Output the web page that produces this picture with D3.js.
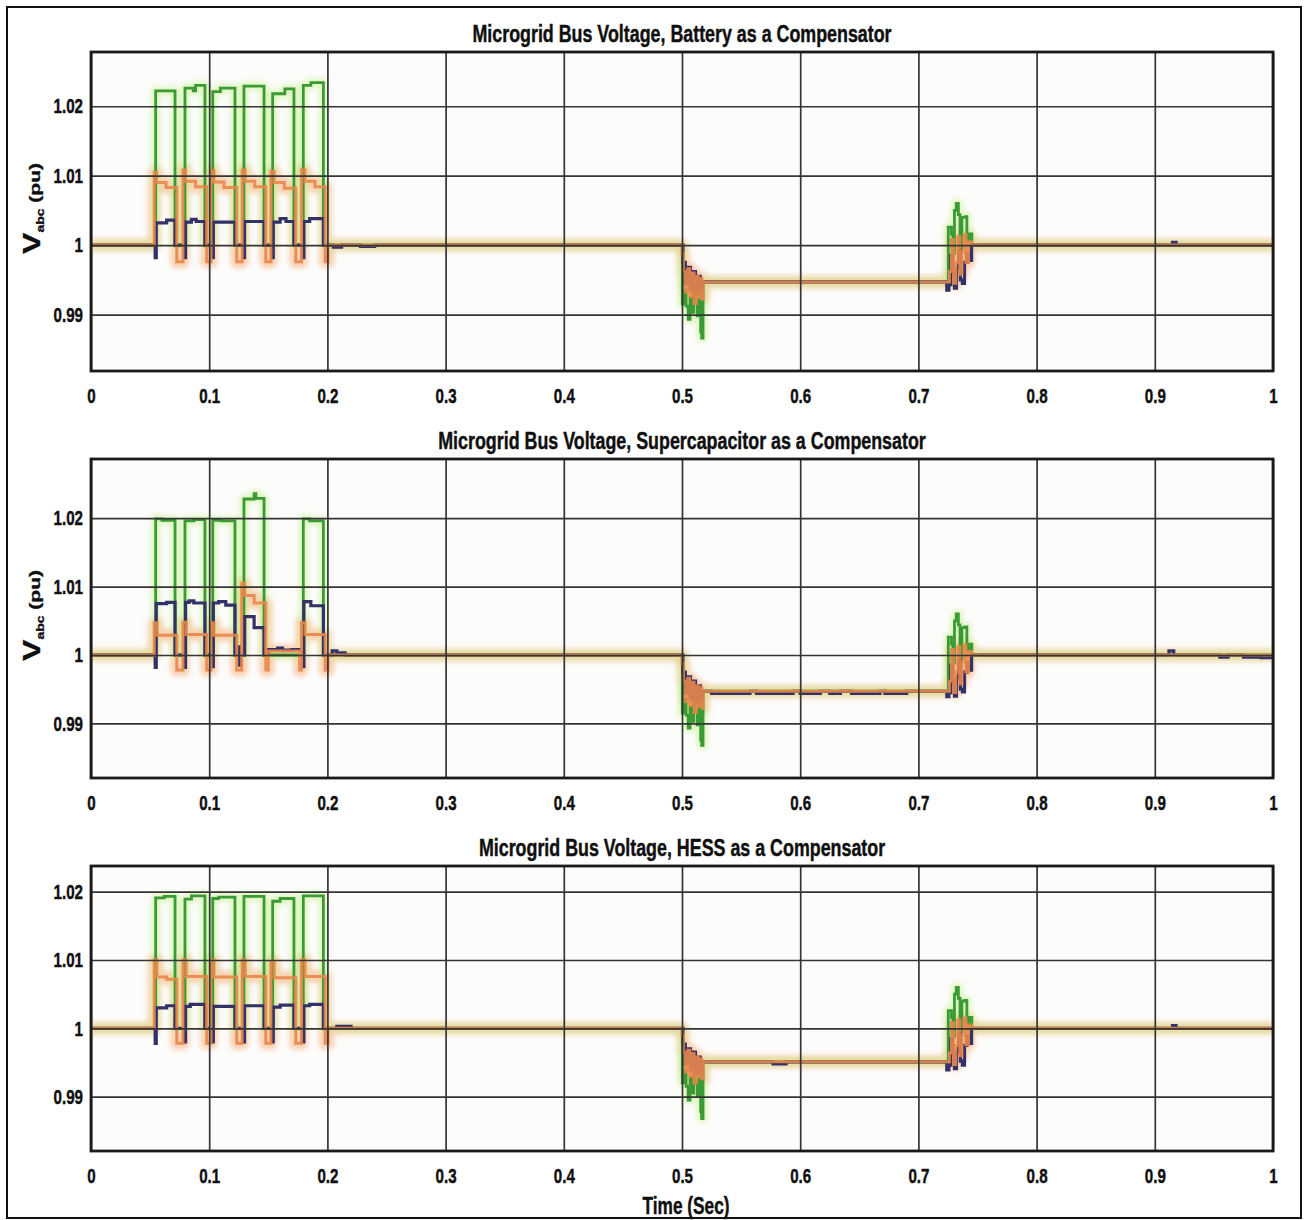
<!DOCTYPE html>
<html><head><meta charset="utf-8">
<script src="https://cdn.jsdelivr.net/npm/d3@7"></script>
<style>body{margin:0;background:#fff}</style>
</head><body>
<svg id="c" width="1306" height="1220"></svg>
<script>
// ---------- data ----------
const xTicks = [0,0.1,0.2,0.3,0.4,0.5,0.6,0.7,0.8,0.9,1];
const xTickLabels = ["0","0.1","0.2","0.3","0.4","0.5","0.6","0.7","0.8","0.9","1"];
const yTicks = [0.99,1,1.01,1.02];
const yTickLabels = ["0.99","1","1.01","1.02"];
const panelTitles = [
  "Microgrid Bus Voltage, Battery as a Compensator",
  "Microgrid Bus Voltage, Supercapacitor as a Compensator",
  "Microgrid Bus Voltage, HESS as a Compensator"
];
const yRanges = [[0.98187,1.02781],[0.98202,1.02865],[0.98204,1.02376]];
const xLabel = "Time (Sec)";

// step data: [time, value held from this time on]
const batteryGreen = [[0,1],[0.0547,1.0222],[0.0711,1.0],[0.0795,1.0226],[0.0865,1.0222],[0.0885,1.0230],[0.0964,1.0],[0.1030,1.0221],[0.1095,1.0226],[0.1218,1.0],[0.1294,1.0229],[0.1464,1.0],[0.1537,1.0218],[0.1640,1.0225],[0.1717,1.0],[0.1796,1.0230],[0.1860,1.0234],[0.1966,1.0],
 [0.5003,0.9915],[0.5020,0.9935],[0.5035,0.9912],[0.5052,0.9893],[0.5068,0.9925],[0.5083,0.9903],[0.5098,0.9935],[0.5113,0.9917],[0.5128,0.9898],[0.5143,0.9930],[0.5158,0.9875],[0.5166,0.9866],[0.5178,0.9947],
 [0.7253,1.0026],[0.7280,1.0016],[0.7292,0.9988],[0.7305,1.0050],[0.7320,1.0060],[0.7338,1.0044],[0.7352,0.9996],[0.7368,1.0040],[0.7395,1.0041],[0.7410,1.0006],[0.7428,1.0016],[0.7452,1.0],[1,1.0]];
const batteryOrange = [[0,1],[0.0535,1.0105],[0.0555,1.0090],[0.0635,1.0083],[0.0726,0.9976],[0.0778,1.0108],[0.0800,1.0092],[0.0885,1.0084],[0.0979,0.9976],[0.1015,1.0107],[0.1040,1.0091],[0.1125,1.0083],[0.1233,0.9976],[0.1279,1.0108],[0.1305,1.0092],[0.1385,1.0084],[0.1479,0.9976],[0.1522,1.0106],[0.1550,1.0090],[0.1635,1.0082],[0.1732,0.9976],[0.1781,1.0108],[0.1810,1.0092],[0.1895,1.0084],[0.1981,0.9976],[0.2005,1.0],
 [0.5000,0.9988],[0.5012,0.9962],[0.5030,0.9932],[0.5048,0.9966],[0.5066,0.9926],[0.5084,0.9960],[0.5102,0.9916],[0.5120,0.9955],[0.5138,0.9925],[0.5155,0.9952],[0.5168,0.9922],[0.5180,0.9947],
 [0.7262,0.9962],[0.7280,1.0008],[0.7298,0.9945],[0.7316,0.9975],[0.7334,1.0012],[0.7350,0.9958],[0.7368,0.9990],[0.7385,1.0015],[0.7402,0.9975],[0.7424,1.0005],[0.7450,1.0],[1,1.0]];
const batteryNavy = [[0,1],[0.0543,0.9982],[0.0552,1.0032],[0.0640,1.0036],[0.0711,1.0],[0.0791,0.9982],[0.0800,1.0033],[0.0850,1.0037],[0.0890,1.0034],[0.0964,1.0],[0.1026,0.9982],[0.1035,1.0033],[0.1218,1.0],[0.1290,0.9982],[0.1299,1.0034],[0.1464,1.0],[0.1533,0.9982],[0.1542,1.0033],[0.1600,1.0038],[0.1650,1.0034],[0.1717,1.0],[0.1792,0.9982],[0.1801,1.0034],[0.1850,1.0038],[0.1966,1.0],[0.2050,0.9997],[0.2120,1.0],[0.2280,0.9998],[0.2400,1.0],
 [0.5008,0.9975],[0.5028,0.9945],[0.5052,0.9968],[0.5072,0.9936],[0.5094,0.9962],[0.5114,0.9930],[0.5134,0.9955],[0.5154,0.9935],[0.5170,0.9947],
 [0.7240,0.9935],[0.7258,0.9943],[0.7274,0.9985],[0.7290,0.9960],[0.7305,0.9938],[0.7322,0.9966],[0.7340,0.9992],[0.7355,0.9950],[0.7372,0.9945],[0.7390,0.9975],[0.7410,0.9988],[0.7430,0.9978],[0.7450,1.0],[0.9150,1.0004],[0.9180,1.0],[1,1.0]];

const superGreen = [[0,1],[0.0547,1.0199],[0.0600,1.0197],[0.0711,1.0],[0.0795,1.0196],[0.0870,1.0198],[0.0964,1.0],[0.1030,1.0197],[0.1100,1.0196],[0.1218,1.0],[0.1294,1.0228],[0.1380,1.0236],[0.1395,1.0229],[0.1464,1.0],[0.1796,1.0199],[0.1850,1.0196],[0.1966,1.0],
 [0.5003,0.9915],[0.5020,0.9935],[0.5035,0.9912],[0.5052,0.9893],[0.5068,0.9925],[0.5083,0.9903],[0.5098,0.9935],[0.5113,0.9917],[0.5128,0.9898],[0.5143,0.9930],[0.5158,0.9876],[0.5166,0.9868],[0.5178,0.9947],
 [0.7253,1.0026],[0.7280,1.0016],[0.7292,0.9988],[0.7305,1.0050],[0.7320,1.0060],[0.7338,1.0044],[0.7352,0.9996],[0.7368,1.0040],[0.7395,1.0041],[0.7410,1.0006],[0.7428,1.0016],[0.7452,1.0],[1,1.0]];
const superOrange = [[0,1],[0.0535,1.0047],[0.0560,1.0029],[0.0726,0.9978],[0.0778,1.0048],[0.0805,1.0030],[0.0979,0.9978],[0.1015,1.0047],[0.1040,1.0029],[0.1233,0.9978],[0.1275,1.0105],[0.1300,1.0087],[0.1380,1.0076],[0.1479,0.9978],[0.1500,1.0006],[0.1765,0.9978],[0.1781,1.0047],[0.1810,1.0030],[0.1981,0.9978],[0.2005,1.0],
 [0.5000,0.9988],[0.5012,0.9962],[0.5030,0.9932],[0.5048,0.9966],[0.5066,0.9926],[0.5084,0.9960],[0.5102,0.9916],[0.5120,0.9955],[0.5138,0.9925],[0.5155,0.9952],[0.5168,0.9922],[0.5180,0.9947],
 [0.7262,0.9962],[0.7280,1.0008],[0.7298,0.9945],[0.7316,0.9975],[0.7334,1.0012],[0.7350,0.9958],[0.7368,0.9990],[0.7385,1.0015],[0.7402,0.9975],[0.7424,1.0005],[0.7450,1.0],[1,1.0]];
const superNavy = [[0,1],[0.0543,0.9982],[0.0552,1.0075],[0.0640,1.0077],[0.0711,1.0],[0.0791,0.9982],[0.0800,1.0077],[0.0830,1.0079],[0.0870,1.0076],[0.0964,1.0],[0.1026,0.9983],[0.1035,1.0076],[0.1080,1.0078],[0.1140,1.0073],[0.1218,1.0],[0.1240,1.0012],[0.1255,0.9985],[0.1265,1.0],[0.1300,1.0056],[0.1380,1.0040],[0.1464,1.0],[0.1500,1.0008],[0.1580,1.0010],[0.1620,1.0007],[0.1700,1.0008],[0.1792,0.9983],[0.1801,1.0078],[0.1860,1.0072],[0.1966,1.0],[0.2040,1.0006],[0.2080,1.0003],[0.2150,1.0],
 [0.5008,0.9975],[0.5028,0.9945],[0.5052,0.9968],[0.5072,0.9936],[0.5094,0.9962],[0.5114,0.9930],[0.5134,0.9955],[0.5154,0.9935],[0.5170,0.9947],
 [0.5250,0.9944],[0.5575,0.9947],[0.5630,0.9944],[0.5940,0.9947],[0.6000,0.9944],[0.6170,0.9947],[0.6250,0.9944],[0.6340,0.9947],[0.6435,0.9944],[0.6675,0.9947],[0.6717,0.9944],[0.6901,0.9947],
 [0.7240,0.9939],[0.7258,0.9945],[0.7274,0.9985],[0.7290,0.9960],[0.7305,0.9940],[0.7322,0.9966],[0.7340,0.9992],[0.7355,0.9950],[0.7372,0.9946],[0.7390,0.9975],[0.7410,0.9988],[0.7430,0.9978],[0.7450,1.0],
 [0.9120,1.0006],[0.9160,1.0],[0.9550,0.9997],[0.9620,1.0],[0.9750,0.9997],[0.9900,0.9996],[1,0.9996]];

const hessGreen = [[0,1],[0.0547,1.0191],[0.0620,1.0193],[0.0711,1.0],[0.0795,1.0189],[0.0850,1.0194],[0.0964,1.0],[0.1030,1.0190],[0.1080,1.0192],[0.1218,1.0],[0.1294,1.0193],[0.1464,1.0],[0.1537,1.0186],[0.1600,1.0190],[0.1717,1.0],[0.1796,1.0194],[0.1966,1.0],
 [0.5003,0.9920],[0.5020,0.9938],[0.5035,0.9915],[0.5052,0.9895],[0.5068,0.9928],[0.5083,0.9905],[0.5098,0.9938],[0.5113,0.9920],[0.5128,0.9900],[0.5143,0.9933],[0.5158,0.9878],[0.5166,0.9868],[0.5178,0.9951],
 [0.7253,1.0026],[0.7280,1.0016],[0.7292,0.9988],[0.7305,1.0050],[0.7320,1.0060],[0.7338,1.0044],[0.7352,0.9996],[0.7368,1.0040],[0.7395,1.0041],[0.7410,1.0006],[0.7428,1.0016],[0.7452,1.0],[1,1.0]];
const hessOrange = [[0,1],[0.0535,1.0100],[0.0558,1.0075],[0.0640,1.0072],[0.0726,0.9978],[0.0778,1.0100],[0.0805,1.0076],[0.0979,0.9978],[0.1015,1.0100],[0.1040,1.0075],[0.1233,0.9978],[0.1279,1.0100],[0.1305,1.0076],[0.1479,0.9978],[0.1522,1.0098],[0.1550,1.0074],[0.1732,0.9978],[0.1781,1.0100],[0.1810,1.0076],[0.1981,0.9978],[0.2005,1.0],
 [0.5000,0.9990],[0.5012,0.9965],[0.5030,0.9936],[0.5048,0.9968],[0.5066,0.9930],[0.5084,0.9963],[0.5102,0.9920],[0.5120,0.9958],[0.5138,0.9929],[0.5155,0.9955],[0.5168,0.9926],[0.5180,0.9951],
 [0.7262,0.9964],[0.7280,1.0008],[0.7298,0.9947],[0.7316,0.9975],[0.7334,1.0012],[0.7350,0.9960],[0.7368,0.9990],[0.7385,1.0015],[0.7402,0.9976],[0.7424,1.0005],[0.7450,1.0],[1,1.0]];
const hessNavy = [[0,1],[0.0543,0.9978],[0.0552,1.0030],[0.0640,1.0033],[0.0711,1.0],[0.0791,0.9980],[0.0800,1.0032],[0.0840,1.0035],[0.0964,1.0],[0.1026,0.9980],[0.1035,1.0032],[0.1218,1.0],[0.1290,0.9980],[0.1299,1.0033],[0.1464,1.0],[0.1533,0.9980],[0.1542,1.0031],[0.1600,1.0034],[0.1717,1.0],[0.1792,0.9980],[0.1801,1.0033],[0.1850,1.0035],[0.1966,1.0],[0.2080,1.0003],[0.2200,1.0],
 [0.5008,0.9977],[0.5028,0.9948],[0.5052,0.9970],[0.5072,0.9939],[0.5094,0.9965],[0.5114,0.9934],[0.5134,0.9958],[0.5154,0.9938],[0.5170,0.9951],[0.5770,0.9948],[0.5880,0.9951],
 [0.7240,0.9939],[0.7258,0.9946],[0.7274,0.9985],[0.7290,0.9962],[0.7305,0.9941],[0.7322,0.9966],[0.7340,0.9992],[0.7355,0.9952],[0.7372,0.9946],[0.7390,0.9975],[0.7410,0.9988],[0.7430,0.9978],[0.7450,1.0],[0.9150,1.0004],[0.9180,1.0],[1,1.0]];

// ---------- layout ----------
const FONT = '"Liberation Sans", Arial, sans-serif';
const K = 0.72;           // horizontal squeeze of the lettering
const L = 91, R = 1273;
const boxes = [{top:52,bottom:371,ylab:true},{top:459,bottom:778,ylab:true},{top:866,bottom:1151,ylab:false}];
const seriesSets = [
  [batteryGreen, batteryNavy, batteryOrange],
  [superGreen, superNavy, superOrange],
  [hessGreen, hessNavy, hessOrange]
];
const COL = {green:"#3a9a33", navy:"#323268", orange:"#e8864a", greenHalo:"#c2f08a", orangeHalo:"#f7a66c"};
const INK = "#0f0f0f";

const svg = d3.select("#c");
const defs = svg.append("defs");
defs.append("filter").attr("id","soft").attr("x","-5%").attr("y","-20%").attr("width","110%").attr("height","140%")
  .append("feGaussianBlur").attr("stdDeviation",2.6);

svg.append("rect").attr("x",7).attr("y",7).attr("width",1294).attr("height",1211)
  .attr("fill","none").attr("stroke","#111").attr("stroke-width",2);

function inked(sel, size) {
  return sel.attr("font-family",FONT).attr("font-weight","bold").attr("font-size",size)
    .attr("fill",INK).attr("stroke",INK).attr("stroke-width",0.45);
}
function squeezed(parent, x, y, str, size, anchor) {
  return inked(parent.append("text")
    .attr("transform",`translate(${x},${y}) scale(${K},1)`)
    .attr("text-anchor",anchor||"middle"), size)
    .text(str);
}

boxes.forEach((b,i) => {
  const x = d3.scaleLinear().domain([0,1]).range([L,R]);
  const y = d3.scaleLinear().domain(yRanges[i]).range([b.bottom,b.top]);
  const g = svg.append("g");
  defs.append("clipPath").attr("id","clip"+i).append("rect")
    .attr("x",L).attr("y",b.top).attr("width",R-L).attr("height",b.bottom-b.top);

  g.append("rect").attr("x",L).attr("y",b.top).attr("width",R-L).attr("height",b.bottom-b.top).attr("fill","#fcfcfb");

  const line = d3.line().x(d=>x(d[0])).y(d=>y(d[1])).curve(d3.curveStepAfter);
  const [gr, nv, or] = seriesSets[i];
  const dg = g.append("g").attr("clip-path",`url(#clip${i})`);
  const halo = dg.append("g").attr("filter","url(#soft)");
  halo.append("path").attr("d",line(or)).attr("fill","none").attr("stroke",COL.orangeHalo).attr("stroke-width",13).attr("stroke-opacity",0.5).attr("stroke-linejoin","round");
  halo.append("path").attr("d",line(gr)).attr("fill","none").attr("stroke",COL.greenHalo).attr("stroke-width",9).attr("stroke-opacity",0.5).attr("stroke-linejoin","round");
  dg.append("path").attr("d",line(gr)).attr("fill","none").attr("stroke",COL.green).attr("stroke-width",2.8);
  dg.append("path").attr("d",line(nv)).attr("fill","none").attr("stroke",COL.navy).attr("stroke-width",3.2);
  dg.append("path").attr("d",line(or)).attr("fill","none").attr("stroke",COL.orange).attr("stroke-width",3).attr("stroke-opacity",0.9);

  // grid
  const gx = g.append("g").attr("transform",`translate(0,${b.bottom})`)
    .call(d3.axisBottom(x).tickValues(xTicks).tickSize(-(b.bottom-b.top)).tickFormat(""));
  gx.select(".domain").remove();
  gx.selectAll("line").attr("stroke","#353535").attr("stroke-width",1.7);
  const gy = g.append("g").attr("transform",`translate(${L},0)`)
    .call(d3.axisLeft(y).tickValues(yTicks).tickSize(-(R-L)).tickFormat(""));
  gy.select(".domain").remove();
  gy.selectAll("line").attr("stroke","#353535").attr("stroke-width",1.7);

  g.append("rect").attr("x",L).attr("y",b.top).attr("width",R-L).attr("height",b.bottom-b.top)
    .attr("fill","none").attr("stroke","#1a1a1a").attr("stroke-width",2.8);

  // tick labels
  const ya = g.append("g").attr("transform",`translate(${L},0)`)
    .call(d3.axisLeft(y).tickValues(yTicks).tickFormat((d,j)=>yTickLabels[j]).tickSize(0).tickPadding(8));
  ya.select(".domain").remove();
  inked(ya.selectAll("text"), 21)
    .each(function(){ const t=d3.select(this); t.attr("x", (+t.attr("x"))/K).attr("transform",`scale(${K},1)`); });
  const xa = g.append("g").attr("transform",`translate(0,${b.bottom})`)
    .call(d3.axisBottom(x).tickValues(xTicks).tickFormat((d,j)=>xTickLabels[j]).tickSize(0).tickPadding(17));
  xa.select(".domain").remove();
  inked(xa.selectAll("text"), 21).attr("transform",`scale(${K},1)`);

  // title
  squeezed(g, (L+R)/2, b.top-10, panelTitles[i], 24.8);

  // y label
  if (b.ylab) {
    const cy = (b.top+b.bottom)/2 - 3;
    const t = inked(g.append("text")
      .attr("transform",`translate(40,${cy}) scale(${K},1) rotate(-90)`)
      .attr("text-anchor","middle"), 20);
    t.append("tspan").attr("font-size",32).text("V");
    t.append("tspan").attr("font-size",14).attr("dy",5).text("abc");
    t.append("tspan").attr("font-size",21).attr("dy",-5).text(" (pu)");
  }
});

squeezed(svg, 686, 1214, xLabel, 24);
</script>
</body></html>
